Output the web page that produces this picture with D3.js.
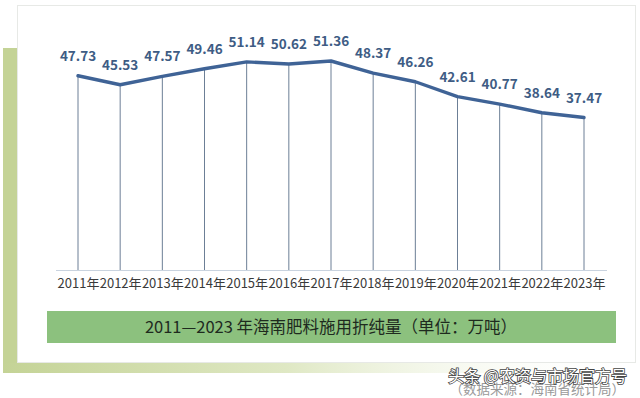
<!DOCTYPE html>
<html>
<head>
<meta charset="utf-8">
<script src="https://cdn.jsdelivr.net/npm/d3@7"></script>
<style>
  html, body { margin: 0; padding: 0; background: #fff; }
  svg { display: block; }
</style>
</head>
<body>
<svg id="chart" width="640" height="398"></svg>
<script>
// data
const years = ["2011", "2012", "2013", "2014", "2015", "2016", "2017", "2018", "2019", "2020", "2021", "2022", "2023"];
const yearLabels = years.map(y => y + "年");
const amounts = [47.73, 45.53, 47.57, 49.46, 51.14, 50.62, 51.36, 48.37, 46.26, 42.61, 40.77, 38.64, 37.47];
const title = "2011—2023 年海南肥料施用折纯量（单位：万吨）";
const watermark = "头条 @农资与市场官方号";
const source = "（数据来源：海南省统计局）";

const data = years.map((y, i) => ({ year: y, label: yearLabels[i], value: amounts[i] }));

const svg = d3.select("#chart");
const font = "'Noto Sans CJK SC', 'Noto Sans', sans-serif";

// green backing frame with a fade along the bottom
const defs = svg.append("defs");
const grad = defs.append("linearGradient").attr("id", "fade")
    .attr("x1", "0").attr("x2", "1").attr("y1", "0").attr("y2", "0");
grad.append("stop").attr("offset", "0").attr("stop-color", "#c4d396");
grad.append("stop").attr("offset", "0.45").attr("stop-color", "#dfe8c4");
grad.append("stop").attr("offset", "1").attr("stop-color", "#ffffff").attr("stop-opacity", 0);

svg.append("rect").attr("x", 3).attr("y", 48).attr("width", 14).attr("height", 325).attr("fill", "#c4d396");
svg.append("rect").attr("x", 3).attr("y", 363).attr("width", 630).attr("height", 10).attr("fill", "url(#fade)");

// white panel with dotted border
svg.append("rect").attr("x", 17.5).attr("y", 5.5).attr("width", 618).attr("height", 357)
    .attr("fill", "#fff").attr("stroke", "#cfd3cc").attr("stroke-dasharray", "1,1");

const base = 270;

const x = d3.scalePoint()
    .domain(years)
    .range([78, 584]);

const y = d3.scaleLinear()
    .domain([0, 51.36])
    .range([base, 61]);

// baseline
svg.append("line")
    .attr("x1", 56).attr("x2", 607)
    .attr("y1", base + 0.5).attr("y2", base + 0.5)
    .attr("stroke", "#c9d3df").attr("stroke-width", 1.2);

// drop lines
svg.append("g").selectAll("line")
  .data(data)
  .join("line")
    .attr("x1", d => x(d.year)).attr("x2", d => x(d.year))
    .attr("y1", d => y(d.value)).attr("y2", base)
    .attr("stroke", "#6c7f96").attr("stroke-width", 1);

// the line
const line = d3.line()
    .x(d => x(d.year))
    .y(d => y(d.value));

svg.append("path")
    .datum(data)
    .attr("fill", "none")
    .attr("stroke", "#3f6396")
    .attr("stroke-width", 3.4)
    .attr("stroke-linejoin", "round")
    .attr("stroke-linecap", "round")
    .attr("d", line);

// value labels
svg.append("g").selectAll("text")
  .data(data)
  .join("text")
    .attr("x", d => x(d.year))
    .attr("y", d => y(d.value) - 15)
    .attr("text-anchor", "middle")
    .attr("font-family", font)
    .attr("font-weight", "bold")
    .attr("font-size", 13.5)
    .attr("fill", "#3e5c84")
    .text(d => d.value.toFixed(2));

// x axis labels
const xAxis = d3.axisBottom(x).tickSize(0).tickPadding(0).tickFormat((d, i) => yearLabels[i]);
const gx = svg.append("g")
    .attr("transform", "translate(0," + (base + 9) + ")")
    .call(xAxis);
gx.select(".domain").remove();
gx.selectAll("text")
    .attr("font-family", font)
    .attr("font-size", 13)
    .attr("fill", "#3a3a3a");

// title band
svg.append("rect").attr("x", 47).attr("y", 311).attr("width", 569).attr("height", 32).attr("fill", "#8cc17e");
svg.append("text")
    .attr("x", 331).attr("y", 333)
    .attr("text-anchor", "middle")
    .attr("font-family", font)
    .attr("font-size", 16.5)
    .attr("fill", "#1e2a1e")
    .text(title);

// watermark
svg.append("text")
    .attr("x", 625).attr("y", 394)
    .attr("text-anchor", "end")
    .attr("font-family", font)
    .attr("font-size", 13.5)
    .attr("fill", "#9a9a9a")
    .text(source);
svg.append("text")
    .attr("x", 627).attr("y", 382)
    .attr("text-anchor", "end")
    .attr("font-family", font)
    .attr("font-size", 16)
    .attr("fill", "#fff")
    .attr("stroke", "#444")
    .attr("stroke-width", 1.6)
    .attr("paint-order", "stroke")
    .text(watermark);
</script>
</body>
</html>
